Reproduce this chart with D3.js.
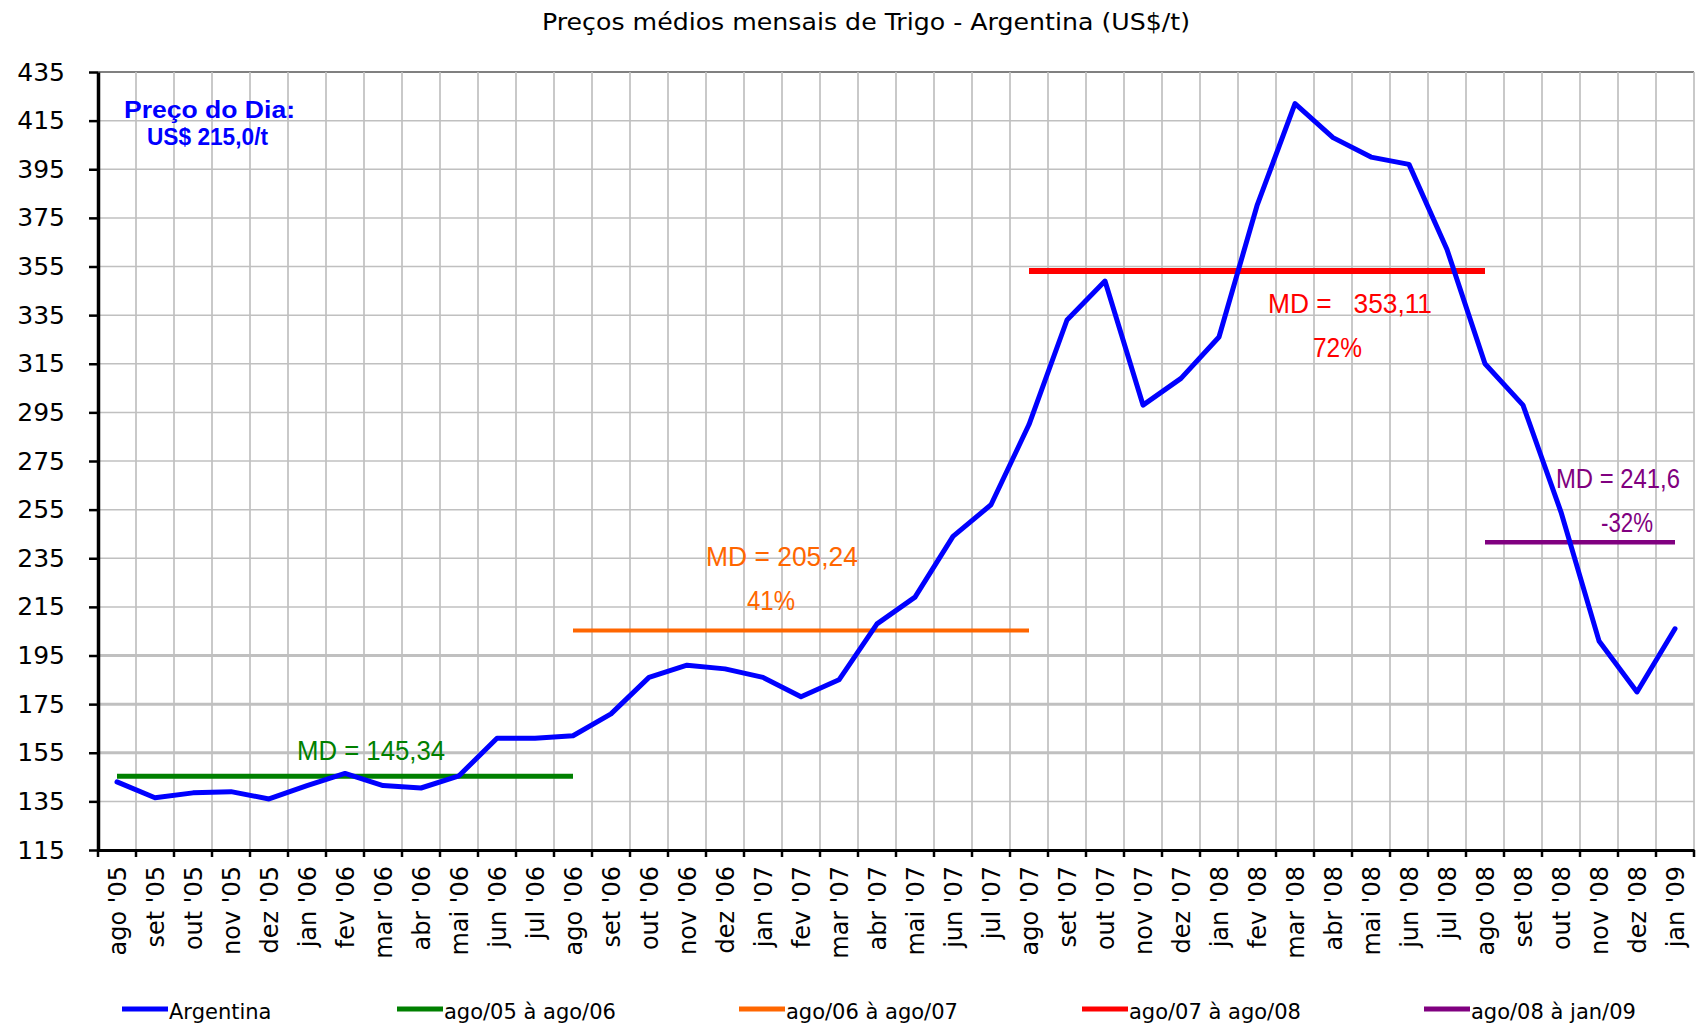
<!DOCTYPE html>
<html>
<head>
<meta charset="utf-8">
<script src="https://cdn.jsdelivr.net/npm/d3@7"></script>
<style>
  body { margin: 0; background: #fff; }
  svg { display: block; }
  text { font-family: "DejaVu Sans", sans-serif; }
</style>
</head>
<body>
<script>
'use strict';

// monthly categories
const months = ["ago '05", "set '05", "out '05", "nov '05", "dez '05",
  "jan '06", "fev '06", "mar '06", "abr '06", "mai '06", "jun '06", "jul '06",
  "ago '06", "set '06", "out '06", "nov '06", "dez '06",
  "jan '07", "fev '07", "mar '07", "abr '07", "mai '07", "jun '07", "jul '07",
  "ago '07", "set '07", "out '07", "nov '07", "dez '07",
  "jan '08", "fev '08", "mar '08", "abr '08", "mai '08", "jun '08", "jul '08",
  "ago '08", "set '08", "out '08", "nov '08", "dez '08", "jan '09"];

// Argentina wheat price, US$/t
const prices = [143, 136.5, 138.5, 139, 136,
  141.5, 146.5, 141.5, 140.5, 145.5, 161, 161,
  162, 171, 186, 191, 189.5,
  186, 178, 185, 208, 219, 244, 257,
  290, 333, 349, 298, 309,
  326, 380, 422, 408, 400, 397, 362,
  315, 298, 254, 201, 180, 206];

// period averages
const periodNames = ["ago/05 à ago/06", "ago/06 à ago/07", "ago/07 à ago/08", "ago/08 à jan/09"];
const periodMeans = [145.34, 205.24, 353.11, 241.6];
const periodFrom = ["ago '05", "ago '06", "ago '07", "ago '08"];
const periodTo = ["ago '06", "ago '07", "ago '08", "jan '09"];
const periodLabels = ["MD = 145,34", "MD = 205,24", "MD =   353,11", "MD = 241,6"];
const periodPct = ["", "41%", "72%", "-32%"];

const yTicks = d3.range(115, 436, 20);

(function() {

  const colors = {
    line: "#0000ff",
    periods: ["#008000", "#ff6600", "#ff0000", "#800080"]
  };

  const W = 1697, H = 1031;
  const plotLeft = 98, plotRight = 1694, plotTop = 72, plotBottom = 850;

  const svg = d3.select("body").append("svg")
    .attr("width", W)
    .attr("height", H);

  const x = d3.scaleBand().domain(months).range([plotLeft, plotRight]).padding(0);
  const y = d3.scaleLinear().domain([115, 435]).range([plotBottom, plotTop]);
  const cx = (m) => x(m) + x.bandwidth() / 2;

  // horizontal grid
  const thick = [155, 175, 195];
  svg.append("g").selectAll("line")
    .data(yTicks)
    .enter()
    .append("line")
    .attr("x1", plotLeft).attr("x2", plotRight)
    .attr("y1", (d) => y(d)).attr("y2", (d) => y(d))
    .attr("stroke", (d) => d === 435 ? "#808080" : "#c0c0c0")
    .attr("stroke-width", (d) => thick.includes(d) ? 3 : (d === 435 ? 2 : 1.5));

  // vertical grid at category boundaries
  const bounds = months.map((m) => x(m) + x.bandwidth());
  svg.append("g").selectAll("line")
    .data(bounds)
    .enter()
    .append("line")
    .attr("x1", (d) => d).attr("x2", (d) => d)
    .attr("y1", plotTop).attr("y2", plotBottom)
    .attr("stroke", "#c0c0c0")
    .attr("stroke-width", 1.7);

  // y axis
  const yAxis = svg.append("g")
    .attr("transform", "translate(" + plotLeft + ",0)")
    .call(d3.axisLeft(y).tickValues(yTicks).tickSize(9).tickSizeOuter(0).tickPadding(24));
  yAxis.select(".domain").attr("stroke", "#000").attr("stroke-width", 3.5);
  yAxis.selectAll(".tick line").attr("stroke", "#000").attr("stroke-width", 2.5);
  yAxis.selectAll(".tick text")
    .style("font-family", "DejaVu Sans")
    .style("font-size", "25px")
    .attr("fill", "#000");

  // x axis
  const xAxis = svg.append("g")
    .attr("transform", "translate(0," + plotBottom + ")")
    .call(d3.axisBottom(x).tickSize(0).tickSizeOuter(0));
  xAxis.select(".domain").attr("stroke", "#000").attr("stroke-width", 3);
  xAxis.selectAll(".tick text")
    .attr("transform", "rotate(-90)")
    .attr("x", -16)
    .attr("y", 0)
    .attr("dy", "0.36em")
    .attr("text-anchor", "end")
    .style("font-family", "DejaVu Sans")
    .style("font-size", "24px")
    .attr("fill", "#000");

  // x ticks on boundaries
  svg.append("g").selectAll("line")
    .data([plotLeft].concat(bounds))
    .enter()
    .append("line")
    .attr("x1", (d) => d).attr("x2", (d) => d)
    .attr("y1", plotBottom).attr("y2", plotBottom + 7)
    .attr("stroke", "#000")
    .attr("stroke-width", 2.5);

  // period average lines
  const widths = [5, 4, 6, 4.5];
  periodMeans.forEach((v, i) => {
    svg.append("line")
      .attr("x1", cx(periodFrom[i]))
      .attr("x2", cx(periodTo[i]))
      .attr("y1", y(v)).attr("y2", y(v))
      .attr("stroke", colors.periods[i])
      .attr("stroke-width", widths[i]);
  });

  // price line
  const line = d3.line()
    .x((d, i) => cx(months[i]))
    .y((d) => y(d));

  svg.append("path")
    .datum(prices)
    .attr("fill", "none")
    .attr("stroke", colors.line)
    .attr("stroke-width", 5)
    .attr("stroke-linejoin", "round")
    .attr("stroke-linecap", "round")
    .attr("d", line);

  // annotations: [x, baseline, width] for MD label and percent label
  const mdPos = [[297, 760, 148], [706, 566, 152], [1268, 313, 164], [1556, 488, 124]];
  const pctPos = [null, [747, 610, 48], [1313, 357, 49], [1601, 532, 52]];

  periodLabels.forEach((t, i) => {
    svg.append("text")
      .attr("x", mdPos[i][0])
      .attr("y", mdPos[i][1])
      .attr("textLength", mdPos[i][2])
      .attr("lengthAdjust", "spacingAndGlyphs")
      .style("white-space", "pre")
      .style("font-family", "Liberation Sans")
      .style("font-size", "27px")
      .attr("fill", colors.periods[i])
      .text(t);
    if (pctPos[i]) {
      svg.append("text")
        .attr("x", pctPos[i][0])
        .attr("y", pctPos[i][1])
        .attr("textLength", pctPos[i][2])
        .attr("lengthAdjust", "spacingAndGlyphs")
        .style("font-family", "Liberation Sans")
        .style("font-size", "27px")
        .attr("fill", colors.periods[i])
        .text(periodPct[i]);
    }
  });

  // price of the day
  svg.append("text")
    .attr("x", 124).attr("y", 118)
    .attr("textLength", 171)
    .attr("lengthAdjust", "spacingAndGlyphs")
    .style("font-family", "Liberation Sans")
    .style("font-size", "23px")
    .style("font-weight", "bold")
    .attr("fill", "#0000ff")
    .text("Preço do Dia:");

  svg.append("text")
    .attr("x", 147).attr("y", 145)
    .attr("textLength", 121)
    .attr("lengthAdjust", "spacingAndGlyphs")
    .style("font-family", "Liberation Sans")
    .style("font-size", "23px")
    .style("font-weight", "bold")
    .attr("fill", "#0000ff")
    .text("US$ 215,0/t");

  // title
  svg.append("text")
    .attr("x", 542).attr("y", 30)
    .attr("textLength", 648)
    .attr("lengthAdjust", "spacingAndGlyphs")
    .style("font-size", "23px")
    .attr("fill", "#000")
    .text("Preços médios mensais de Trigo - Argentina (US$/t)");

  // legend
  const legendNames = ["Argentina"].concat(periodNames);
  const legendColors = [colors.line].concat(colors.periods);
  const legendX = [122, 397, 739, 1082, 1424];

  legendNames.forEach((name, i) => {
    svg.append("line")
      .attr("x1", legendX[i]).attr("x2", legendX[i] + 46)
      .attr("y1", 1009).attr("y2", 1009)
      .attr("stroke", legendColors[i])
      .attr("stroke-width", 5);
    svg.append("text")
      .attr("x", legendX[i] + 47)
      .attr("y", 1019)
      .style("font-size", "21px")
      .attr("fill", "#000")
      .text(name);
  });
})();
</script>
</body>
</html>
